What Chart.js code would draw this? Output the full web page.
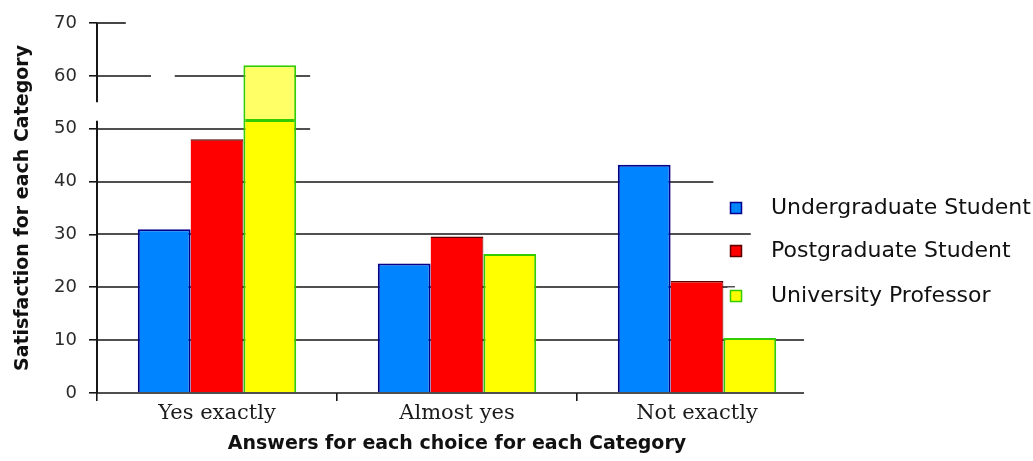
<!DOCTYPE html>
<html>
<head>
<meta charset="utf-8">
<script src="https://cdn.jsdelivr.net/npm/chart.js@4.4.1/dist/chart.umd.min.js"></script>
<style>
  html, body { margin: 0; padding: 0; background: #ffffff; }
  #c { display: block; }
</style>
</head>
<body>
<canvas id="c" width="1033" height="461"></canvas>
<script>
// Survey answers per respondent group
const categories = ['Yes exactly', 'Almost yes', 'Not exactly'];
const seriesNames = ['Undergraduate Student', 'Postgraduate Student', 'University Professor'];
const undergraduate = [31, 24.5, 43.2];
const postgraduate = [48, 29.6, 21.2];
const professor = [62, 26.3, 10.4];
const yTicks = [0, 10, 20, 30, 40, 50, 60, 70];

// Colours per series
const fills = ['#0084ff', '#ff0000', '#ffff00'];
const edges = ['#00008c', '#5a0000', '#33cc00'];
// Paler shading on the upper part of the tallest professor bar
const paleAbove = 51.5;
const paleFill = '#ffff66';

// Horizontal rule spans per tick, as fractions of the plot width
const gridSpans = {
  0: [[0, 0.982]],
  10: [[0, 0.982]],
  20: [[0, 0.886]],
  30: [[0, 0.908]],
  40: [[0, 0.856]],
  50: [[0, 0.296]],
  60: [[0, 0.075], [0.108, 0.296]],
  70: [[0, 0.04]]
};
// Break in the vertical axis line (value range left open)
const axisBreak = [51.5, 55];

const ruleColor = '#161616';

function drawSpans(chart, values) {
  const { ctx, chartArea: a, scales: { y } } = chart;
  const w = a.right - a.left;
  ctx.save();
  ctx.strokeStyle = ruleColor;
  ctx.lineWidth = 1.6;
  values.forEach(v => {
    const py = Math.round(y.getPixelForValue(v));
    (gridSpans[v] || []).forEach(([s, e]) => {
      ctx.beginPath();
      ctx.moveTo(a.left + s * w, py);
      ctx.lineTo(a.left + e * w, py);
      ctx.stroke();
    });
  });
  ctx.restore();
}

const rulesPlugin = {
  id: 'rules',
  beforeDatasetsDraw(chart) {
    drawSpans(chart, yTicks.filter(v => v !== 0));
    const { ctx, chartArea: a, scales: { y } } = chart;
    ctx.save();
    ctx.strokeStyle = ruleColor;
    ctx.lineWidth = 2;
    ctx.beginPath();
    ctx.moveTo(a.left, y.getPixelForValue(y.max));
    ctx.lineTo(a.left, y.getPixelForValue(axisBreak[1]));
    ctx.moveTo(a.left, y.getPixelForValue(axisBreak[0]));
    ctx.lineTo(a.left, y.getPixelForValue(0));
    ctx.stroke();
    ctx.restore();
  },
  afterDatasetsDraw(chart) {
    drawSpans(chart, [0]);
  }
};

// Legend drawn to the right of the bars, over the rules
const legendLayout = { markerX: 736, textX: 771, rows: [208, 251, 296], marker: 11 };
const legendPlugin = {
  id: 'sideLegend',
  afterDraw(chart) {
    const { ctx } = chart;
    ctx.save();
    ctx.font = '22px "DejaVu Sans"';
    ctx.textBaseline = 'middle';
    chart.data.datasets.forEach((ds, i) => {
      const cy = legendLayout.rows[i];
      const m = legendLayout.marker;
      ctx.fillStyle = '#ffffff';
      ctx.fillRect(legendLayout.markerX - m / 2 - 3, cy - m / 2 - 3, m + 6, m + 6);
      ctx.fillStyle = fills[i];
      ctx.fillRect(legendLayout.markerX - m / 2, cy - m / 2, m, m);
      ctx.strokeStyle = edges[i];
      ctx.lineWidth = 1.5;
      ctx.strokeRect(legendLayout.markerX - m / 2, cy - m / 2, m, m);
      ctx.fillStyle = '#111111';
      ctx.fillText(ds.label, legendLayout.textX, cy);
    });
    ctx.restore();
  }
};

// Professor bars: solid yellow, paler above the shading threshold
function professorFill(context) {
  const chart = context.chart;
  const v = context.raw;
  if (!chart.chartArea || typeof v !== 'number' || v <= paleAbove) return fills[2];
  const y = chart.scales.y;
  const y0 = y.getPixelForValue(0);
  const y1 = y.getPixelForValue(v);
  const g = chart.ctx.createLinearGradient(0, y0, 0, y1);
  const f = paleAbove / v;
  g.addColorStop(0, fills[2]);
  g.addColorStop(f - 0.004, fills[2]);
  g.addColorStop(f - 0.004, edges[2]);
  g.addColorStop(f + 0.004, edges[2]);
  g.addColorStop(f + 0.004, paleFill);
  g.addColorStop(1, paleFill);
  return g;
}

const series = [undergraduate, postgraduate, professor];
const datasets = series.map((values, i) => ({
  label: seriesNames[i],
  data: values,
  backgroundColor: i === 2 ? professorFill : fills[i],
  borderColor: edges[i],
  borderWidth: i === 1 ? { top: 1.5, right: 1, left: 0 } : 2,
  borderSkipped: 'bottom',
  categoryPercentage: 0.66,
  barPercentage: 1.0
}));

new Chart(document.getElementById('c'), {
  type: 'bar',
  data: { labels: categories, datasets },
  plugins: [rulesPlugin, legendPlugin],
  options: {
    responsive: false,
    animation: false,
    layout: { padding: { left: 0, right: 216, top: 23, bottom: 0 } },
    plugins: {
      legend: { display: false },
      tooltip: { enabled: false }
    },
    scales: {
      x: {
        afterFit(scale) { scale.height = 68; },
        border: { display: false },
        grid: {
          drawOnChartArea: false,
          drawTicks: true,
          tickLength: 8,
          lineWidth: 1.6,
          color: ctx => (ctx.index < categories.length ? ruleColor : 'rgba(0,0,0,0)')
        },
        ticks: {
          padding: 0,
          color: '#1a1a1a',
          font: { family: 'DejaVu Serif', size: 21 }
        },
        title: {
          display: true,
          text: 'Answers for each choice for each Category',
          color: '#111111',
          font: { family: 'DejaVu Sans', size: 19, weight: 'bold' },
          padding: { top: 4, bottom: 6 }
        }
      },
      y: {
        min: 0,
        max: 70,
        afterFit(scale) { scale.width = 97; },
        afterBuildTicks(scale) { scale.ticks = yTicks.map(v => ({ value: v })); },
        border: { display: false },
        grid: {
          drawOnChartArea: false,
          drawTicks: true,
          tickLength: 8,
          lineWidth: 1.6,
          color: ruleColor
        },
        ticks: {
          padding: 12,
          color: '#2a2a2a',
          font: { family: 'DejaVu Sans', size: 18 }
        },
        title: {
          display: true,
          text: 'Satisfaction for each Category',
          color: '#111111',
          font: { family: 'DejaVu Sans', size: 19, weight: 'bold' },
          padding: { top: 12, bottom: 0 }
        }
      }
    }
  }
});
</script>
</body>
</html>
